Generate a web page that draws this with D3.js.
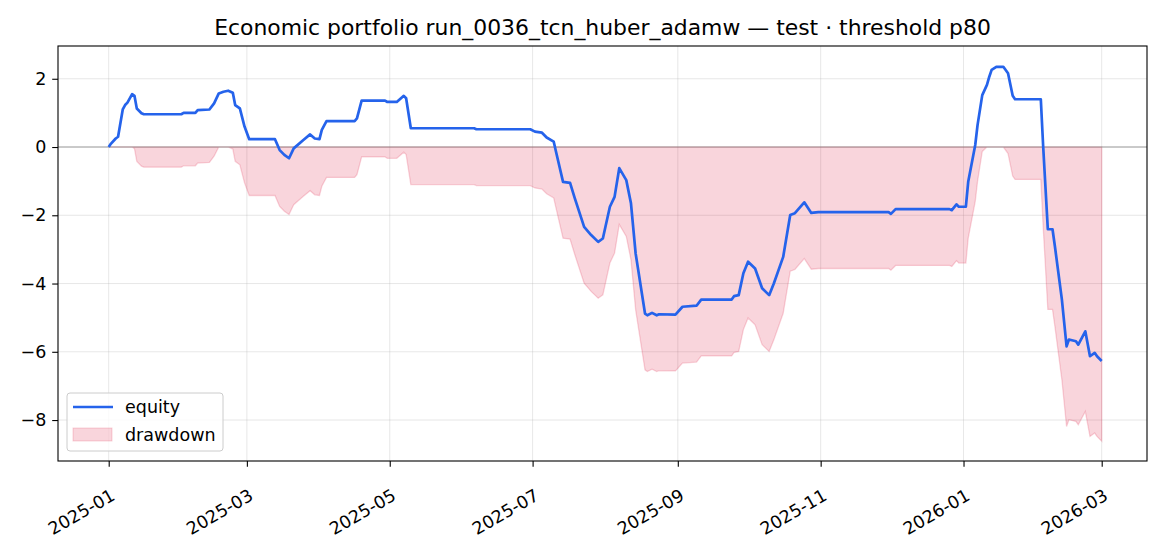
<!DOCTYPE html>
<html><head><meta charset="utf-8">
<script src="https://cdn.jsdelivr.net/npm/d3@7"></script>
<style>body{margin:0;background:#fff;} text{font-family:"DejaVu Sans",sans-serif;}</style>
</head><body>
<svg id="c" width="1170" height="546"></svg>
<script>
const titleText = "Economic portfolio run_0036_tcn_huber_adamw — test · threshold p80";
const dates = ["2025-01-01","2025-01-02","2025-01-04","2025-01-05","2025-01-07","2025-01-08","2025-01-09","2025-01-11","2025-01-12","2025-01-13","2025-01-15","2025-01-16",
"2025-02-01","2025-02-02","2025-02-07","2025-02-08","2025-02-13","2025-02-15","2025-02-17","2025-02-19","2025-02-21","2025-02-23","2025-02-24","2025-02-26","2025-02-28",
"2025-03-02","2025-03-13","2025-03-15","2025-03-17","2025-03-19","2025-03-21","2025-03-25","2025-03-28","2025-03-30","2025-04-01","2025-04-02","2025-04-04",
"2025-04-16","2025-04-17","2025-04-19","2025-04-29","2025-04-30","2025-05-04","2025-05-07","2025-05-08","2025-05-10","2025-06-06","2025-06-07","2025-06-30",
"2025-07-02","2025-07-05","2025-07-07","2025-07-10","2025-07-11","2025-07-14","2025-07-17","2025-07-19","2025-07-23","2025-07-26","2025-07-29","2025-07-31",
"2025-08-03","2025-08-05","2025-08-07","2025-08-10","2025-08-12","2025-08-14","2025-08-18","2025-08-19","2025-08-21","2025-08-23","2025-08-24","2025-08-31",
"2025-09-03","2025-09-09","2025-09-11","2025-09-24","2025-09-25","2025-09-27","2025-09-29","2025-10-01","2025-10-04","2025-10-07","2025-10-10","2025-10-12",
"2025-10-16","2025-10-19","2025-10-21","2025-10-25","2025-10-28","2025-10-31","2025-11-30","2025-12-01","2025-12-03","2025-12-26","2025-12-27","2025-12-29","2025-12-30",
"2026-01-02","2026-01-03","2026-01-06","2026-01-07","2026-01-09","2026-01-11","2026-01-12","2026-01-13","2026-01-15","2026-01-18","2026-01-20","2026-01-22","2026-01-23",
"2026-02-03","2026-02-04","2026-02-06","2026-02-08","2026-02-09","2026-02-12","2026-02-14","2026-02-15","2026-02-18","2026-02-19","2026-02-22","2026-02-24","2026-02-26","2026-02-27","2026-03-01"];
const equity = [0,0.1,0.25,0.3,1.1,1.23,1.3,1.55,1.5,1.13,0.99,0.96,
0.96,1.0,1.0,1.08,1.1,1.28,1.57,1.62,1.65,1.59,1.23,1.13,0.6,
0.23,0.23,-0.09,-0.23,-0.33,-0.04,0.2,0.37,0.25,0.23,0.5,0.76,
0.76,0.84,1.36,1.36,1.32,1.32,1.5,1.43,0.55,0.55,0.52,0.52,
0.45,0.42,0.28,0.16,-0.14,-1.02,-1.05,-1.5,-2.34,-2.58,-2.78,-2.68,
-1.75,-1.46,-0.62,-0.97,-1.65,-3.12,-4.88,-4.93,-4.86,-4.93,-4.9,-4.91,
-4.68,-4.65,-4.47,-4.47,-4.37,-4.34,-3.7,-3.36,-3.56,-4.14,-4.34,-4.0,
-3.22,-1.99,-1.94,-1.62,-1.93,-1.91,-1.91,-1.96,-1.82,-1.82,-1.85,-1.68,-1.75,
-1.75,-1.02,0.06,0.65,1.52,1.82,2.06,2.26,2.35,2.35,2.16,1.5,1.4,
1.4,0.03,-2.41,-2.41,-2.9,-4.47,-5.84,-5.64,-5.69,-5.79,-5.4,-6.13,-6.03,-6.13,-6.27];
const yTicks = [-8,-6,-4,-2,0,2];
const xTickLabels = ["2025-01","2025-03","2025-05","2025-07","2025-09","2025-11","2026-01","2026-03"];

const parse = d3.timeParse("%Y-%m-%d");
const pm = d3.timeParse("%Y-%m");
let runMax = -Infinity;
const data = dates.map((d,i)=>{ runMax=Math.max(runMax,equity[i]); return {t:parse(d), v:equity[i], dd:equity[i]-runMax}; });

const svg = d3.select("#c");
const L=58,R=1147,T=46,B=461;
const FS=17.5;
const t0=parse(dates[0]), t1=parse(dates[dates.length-1]);
const x = d3.scaleTime().domain([t0, t1]).range([108.7,1101.7]);
const y = d3.scaleLinear().domain([-9.2,2.96]).range([B,T]);

// grid
const g = svg.append("g");
g.selectAll(".gy").data(yTicks).enter().append("line")
 .attr("x1",L).attr("x2",R).attr("y1",d=>y(d)).attr("y2",d=>y(d))
 .attr("stroke","#b0b0b0").attr("stroke-opacity",0.3).attr("stroke-width",1);
g.selectAll(".gx").data(xTickLabels).enter().append("line")
 .attr("y1",T).attr("y2",B).attr("x1",d=>x(pm(d))).attr("x2",d=>x(pm(d)))
 .attr("stroke","#b0b0b0").attr("stroke-opacity",0.3).attr("stroke-width",1);

// drawdown
const area = d3.area().x(d=>x(d.t)).y0(y(0)).y1(d=>y(d.dd));
svg.append("path").datum(data).attr("d",area)
 .attr("fill","crimson").attr("fill-opacity",0.18)
 .attr("stroke","crimson").attr("stroke-opacity",0.18).attr("stroke-width",1.3);
// zero line
svg.append("line").attr("x1",L).attr("x2",R).attr("y1",y(0)).attr("y2",y(0))
 .attr("stroke","#808080").attr("stroke-opacity",0.7).attr("stroke-width",1.1);
// equity
svg.append("path").datum(data).attr("d",d3.line().x(d=>x(d.t)).y(d=>y(d.v)))
 .attr("fill","none").attr("stroke","#2563eb").attr("stroke-width",2.7).attr("stroke-linejoin","round");

// axes
const ax = svg.append("g").attr("transform",`translate(0,${B})`)
 .call(d3.axisBottom(x).tickValues(xTickLabels.map(pm)).tickFormat(d3.timeFormat("%Y-%m")).tickSizeOuter(0).tickSize(5.8));
ax.selectAll("text").attr("font-size",FS).attr("fill","#000")
 .attr("text-anchor","end").attr("y",0).attr("dy",0).attr("x",0)
 .attr("transform","translate(7,38) rotate(-30)");
const ay = svg.append("g").attr("transform",`translate(${L},0)`)
 .call(d3.axisLeft(y).tickValues(yTicks).tickFormat(d=>d<0?"\u2212"+Math.abs(d):d).tickSizeOuter(0).tickSize(5.8));
ay.selectAll("text").attr("font-size",FS).attr("fill","#000").attr("x",-11.6);
[ax,ay].forEach(a=>{a.select(".domain").remove(); a.selectAll("line").attr("stroke","#000").attr("stroke-width",1.1); a.selectAll("text").attr("font-family","DejaVu Sans");});
svg.append("rect").attr("x",L).attr("y",T).attr("width",R-L).attr("height",B-T)
 .attr("fill","none").attr("stroke","#000").attr("stroke-width",1.1);

svg.append("text").attr("x",(L+R)/2).attr("y",35).attr("text-anchor","middle")
 .attr("font-size",21.9).text(titleText);

// legend
const lg = svg.append("g");
lg.append("rect").attr("x",67).attr("y",393).attr("width",156).attr("height",58).attr("rx",3)
 .attr("fill","#fff").attr("fill-opacity",0.8).attr("stroke","#ccc");
lg.append("line").attr("x1",73).attr("x2",113).attr("y1",407).attr("y2",407).attr("stroke","#2563eb").attr("stroke-width",2.7);
lg.append("rect").attr("x",73).attr("y",428).attr("width",39).attr("height",13)
 .attr("fill","crimson").attr("fill-opacity",0.18).attr("stroke","crimson").attr("stroke-opacity",0.18);
lg.append("text").attr("x",125).attr("y",413).attr("font-size",FS).text("equity");
lg.append("text").attr("x",125).attr("y",441).attr("font-size",FS).text("drawdown");
</script>
</body></html>
